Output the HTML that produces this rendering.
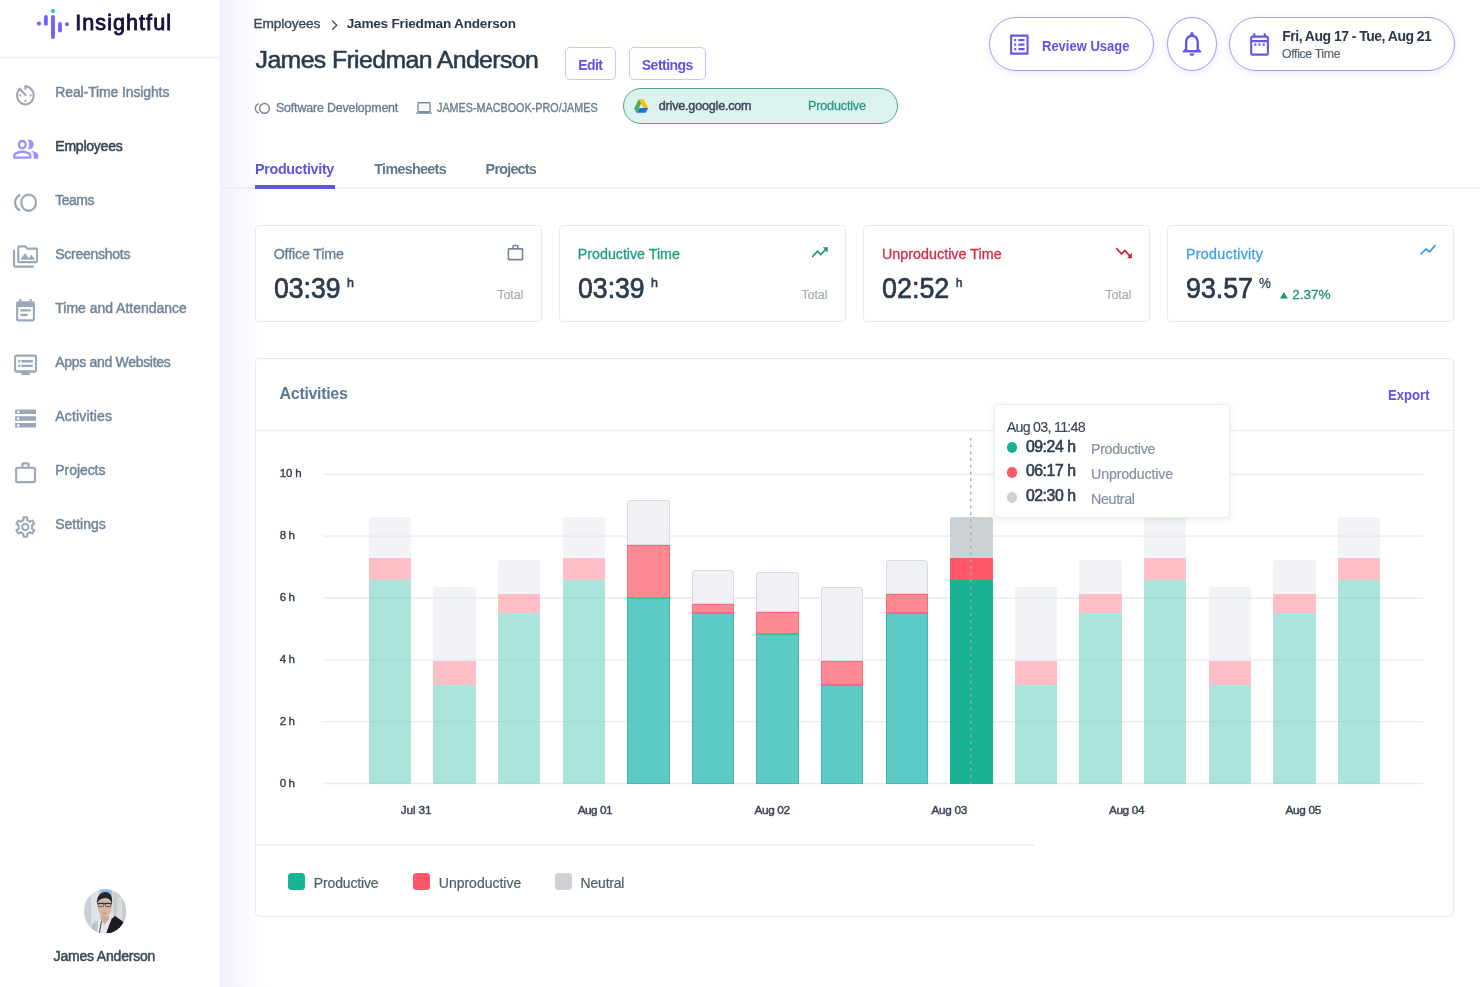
<!DOCTYPE html>
<html><head><meta charset="utf-8"><title>Insightful</title>
<style>
*{box-sizing:border-box;margin:0;padding:0}
html,body{width:1480px;height:987px;overflow:hidden;background:#fff;font-family:"Liberation Sans",sans-serif}
body{position:relative}
.abs,.t,svg.i{position:absolute}
.t{white-space:nowrap;line-height:1;display:block;opacity:.999}
.main-bg{left:221px;top:0;width:1259px;height:987px;background:linear-gradient(to right,#f2f1fe 0,#f7f6fe 14px,#fcfcff 32px,#fff 46px)}
.side{left:0;top:0;width:220px;height:987px;background:#fff}
.side-line{left:220px;top:0;width:1px;height:987px;background:#efeef8}
.logo-line{left:0;top:57px;width:220px;height:1px;background:#eceef2}
.btn{border:1px solid #cbc6f8;border-radius:5px;background:#fff}
.pill{left:623px;top:88px;width:275.4px;height:36px;border-radius:18px;background:#dcf2ee;border:1.2px solid #49a996}
.tabline{left:222px;top:187.4px;width:1258px;height:1.5px;background:#eef0f3}
.tabsel{left:254.8px;top:185px;width:79.8px;height:3.6px;background:#6156e8}
.card{top:225px;height:96.5px;width:286.8px;border:1px solid #e7ebef;border-radius:4px;background:#fff}
.panel{left:255px;top:358px;width:1199.3px;height:559px;border:1px solid #e7ebef;border-radius:5px;background:#fff}
.hline{height:1.2px;background:#eceff2}
.grid{left:323px;width:1100.3px;height:1.2px;background:#eaedf0}
.rbtn{top:17.2px;height:53.8px;border:1px solid #a69ff6;border-radius:27px;background:#fff;box-shadow:0 2px 6px rgba(91,78,227,.13)}
.bar{position:absolute;width:42.4px}
.tip{left:994.2px;top:403.9px;width:235.6px;height:114.5px;background:#fff;border:1px solid #e9edf1;border-radius:5px;box-shadow:0 2px 8px rgba(40,60,90,.09)}
.dot{width:10.8px;height:10.8px;border-radius:50%;left:1006.5px}
.lg{width:16.5px;height:17.6px;border-radius:3.5px;top:872.7px}

</style></head>
<body>
<div class="abs main-bg"></div>
<div class="abs side"></div><div class="abs side-line"></div><div class="abs logo-line"></div>
<div class="abs btn" style="left:565.1px;top:46.7px;width:50.7px;height:33.8px"></div>
<div class="abs btn" style="left:628.9px;top:46.7px;width:77.4px;height:33.8px"></div>
<div class="abs pill"></div>
<div class="abs tabline"></div><div class="abs tabsel"></div>
<div class="abs rbtn" style="left:989px;width:165.4px"></div>
<div class="abs rbtn" style="left:1167.1px;width:49.8px;border-radius:50%"></div>
<div class="abs rbtn" style="left:1229.2px;width:225.6px"></div>
<div class="abs card" style="left:255.0px"></div>
<div class="abs card" style="left:559.1px"></div>
<div class="abs card" style="left:863.3px"></div>
<div class="abs card" style="left:1167.4px"></div>
<div class="abs panel"></div>
<div class="abs hline" style="left:256px;top:429.6px;width:1197.3px"></div>
<div class="abs hline" style="left:256px;top:844.4px;width:778px"></div>
<svg class="i" style="left:322px;top:470px" width="1104" height="318" viewBox="322 470 1104 318"><line x1="322.8" x2="1423.3" y1="474.30" y2="474.30" stroke="#e9ecef" stroke-width="1.35"/><line x1="322.8" x2="1423.3" y1="536.14" y2="536.14" stroke="#e9ecef" stroke-width="1.35"/><line x1="322.8" x2="1423.3" y1="597.98" y2="597.98" stroke="#e9ecef" stroke-width="1.35"/><line x1="322.8" x2="1423.3" y1="659.82" y2="659.82" stroke="#e9ecef" stroke-width="1.35"/><line x1="322.8" x2="1423.3" y1="721.66" y2="721.66" stroke="#e9ecef" stroke-width="1.35"/><line x1="322.8" x2="1423.3" y1="783.50" y2="783.50" stroke="#e9ecef" stroke-width="1.35"/></svg>
<div class="bar" style="left:368.8px;top:517.3px;height:40.3px;background:rgba(225,229,234,.45);border-radius:3px 3px 0 0;"></div><div class="bar" style="left:368.8px;top:557.6px;height:22.6px;background:rgba(253,150,160,.6);"></div><div class="bar" style="left:368.8px;top:580.2px;height:203.4px;background:rgba(120,212,197,.62);"></div>
<div class="bar" style="left:433.4px;top:587.2px;height:73.9px;background:rgba(225,229,234,.45);border-radius:3px 3px 0 0;"></div><div class="bar" style="left:433.4px;top:661.1px;height:23.9px;background:rgba(253,150,160,.6);"></div><div class="bar" style="left:433.4px;top:685.0px;height:98.6px;background:rgba(120,212,197,.62);"></div>
<div class="bar" style="left:498.0px;top:560.2px;height:33.6px;background:rgba(225,229,234,.45);border-radius:3px 3px 0 0;"></div><div class="bar" style="left:498.0px;top:593.8px;height:19.2px;background:rgba(253,150,160,.6);"></div><div class="bar" style="left:498.0px;top:613.0px;height:170.6px;background:rgba(120,212,197,.62);"></div>
<div class="bar" style="left:562.6px;top:517.3px;height:40.3px;background:rgba(225,229,234,.45);border-radius:3px 3px 0 0;"></div><div class="bar" style="left:562.6px;top:557.6px;height:22.6px;background:rgba(253,150,160,.6);"></div><div class="bar" style="left:562.6px;top:580.2px;height:203.4px;background:rgba(120,212,197,.62);"></div>
<div class="bar" style="left:627.2px;top:500.4px;height:44.9px;background:#eff1f4;border:1px solid #d6dbe1;border-radius:3px 3px 0 0;"></div><div class="bar" style="left:627.2px;top:545.3px;height:52.5px;background:#ff8a94;border:1px solid #fb6a78;"></div><div class="bar" style="left:627.2px;top:597.8px;height:185.8px;background:#5ecac6;border:1px solid #3fb8ad;"></div>
<div class="bar" style="left:691.8px;top:570.3px;height:33.5px;background:#eff1f4;border:1px solid #d6dbe1;border-radius:3px 3px 0 0;"></div><div class="bar" style="left:691.8px;top:603.8px;height:8.9px;background:#ff8a94;border:1px solid #fb6a78;"></div><div class="bar" style="left:691.8px;top:612.7px;height:170.9px;background:#5ecac6;border:1px solid #3fb8ad;"></div>
<div class="bar" style="left:756.4px;top:571.6px;height:40.3px;background:#eff1f4;border:1px solid #d6dbe1;border-radius:3px 3px 0 0;"></div><div class="bar" style="left:756.4px;top:611.9px;height:22.1px;background:#ff8a94;border:1px solid #fb6a78;"></div><div class="bar" style="left:756.4px;top:634.0px;height:149.6px;background:#5ecac6;border:1px solid #3fb8ad;"></div>
<div class="bar" style="left:821.0px;top:587.2px;height:73.9px;background:#eff1f4;border:1px solid #d6dbe1;border-radius:3px 3px 0 0;"></div><div class="bar" style="left:821.0px;top:661.1px;height:23.9px;background:#ff8a94;border:1px solid #fb6a78;"></div><div class="bar" style="left:821.0px;top:685.0px;height:98.6px;background:#5ecac6;border:1px solid #3fb8ad;"></div>
<div class="bar" style="left:885.6px;top:560.2px;height:33.6px;background:#eff1f4;border:1px solid #d6dbe1;border-radius:3px 3px 0 0;"></div><div class="bar" style="left:885.6px;top:593.8px;height:19.2px;background:#ff8a94;border:1px solid #fb6a78;"></div><div class="bar" style="left:885.6px;top:613.0px;height:170.6px;background:#5ecac6;border:1px solid #3fb8ad;"></div>
<div class="bar" style="left:950.2px;top:517.3px;height:40.3px;background:#cdd2d7;border-radius:3px 3px 0 0;"></div><div class="bar" style="left:950.2px;top:557.6px;height:22.6px;background:#fd5969;"></div><div class="bar" style="left:950.2px;top:580.2px;height:203.4px;background:#19b394;"></div>
<div class="bar" style="left:1014.8px;top:587.2px;height:73.9px;background:rgba(225,229,234,.45);border-radius:3px 3px 0 0;"></div><div class="bar" style="left:1014.8px;top:661.1px;height:23.9px;background:rgba(253,150,160,.6);"></div><div class="bar" style="left:1014.8px;top:685.0px;height:98.6px;background:rgba(120,212,197,.62);"></div>
<div class="bar" style="left:1079.4px;top:560.2px;height:33.6px;background:rgba(225,229,234,.45);border-radius:3px 3px 0 0;"></div><div class="bar" style="left:1079.4px;top:593.8px;height:19.2px;background:rgba(253,150,160,.6);"></div><div class="bar" style="left:1079.4px;top:613.0px;height:170.6px;background:rgba(120,212,197,.62);"></div>
<div class="bar" style="left:1144.0px;top:517.3px;height:40.3px;background:rgba(225,229,234,.45);border-radius:3px 3px 0 0;"></div><div class="bar" style="left:1144.0px;top:557.6px;height:22.6px;background:rgba(253,150,160,.6);"></div><div class="bar" style="left:1144.0px;top:580.2px;height:203.4px;background:rgba(120,212,197,.62);"></div>
<div class="bar" style="left:1208.6px;top:587.2px;height:73.9px;background:rgba(225,229,234,.45);border-radius:3px 3px 0 0;"></div><div class="bar" style="left:1208.6px;top:661.1px;height:23.9px;background:rgba(253,150,160,.6);"></div><div class="bar" style="left:1208.6px;top:685.0px;height:98.6px;background:rgba(120,212,197,.62);"></div>
<div class="bar" style="left:1273.2px;top:560.2px;height:33.6px;background:rgba(225,229,234,.45);border-radius:3px 3px 0 0;"></div><div class="bar" style="left:1273.2px;top:593.8px;height:19.2px;background:rgba(253,150,160,.6);"></div><div class="bar" style="left:1273.2px;top:613.0px;height:170.6px;background:rgba(120,212,197,.62);"></div>
<div class="bar" style="left:1337.8px;top:517.3px;height:40.3px;background:rgba(225,229,234,.45);border-radius:3px 3px 0 0;"></div><div class="bar" style="left:1337.8px;top:557.6px;height:22.6px;background:rgba(253,150,160,.6);"></div><div class="bar" style="left:1337.8px;top:580.2px;height:203.4px;background:rgba(120,212,197,.62);"></div>
<svg class="i" style="left:969px;top:438px" width="4" height="346"><line x1="1.7" y1="0" x2="1.7" y2="346" stroke="#9ea9bc" stroke-width="1.4" stroke-dasharray="2.6 4.14"/></svg>
<div class="abs tip"></div>
<div class="abs dot" style="top:442.3px;background:#19b394"></div>
<div class="abs dot" style="top:467.2px;background:#fd5969"></div>
<div class="abs dot" style="top:492.1px;background:#cdd2d7"></div>
<div class="abs lg" style="left:288.0px;background:#19b394"></div>
<div class="abs lg" style="left:413.1px;background:#fd5969"></div>
<div class="abs lg" style="left:555.0px;background:#cdd2d7"></div>
<svg class="i" style="left:34px;top:6px" width="40" height="36" viewBox="34 6 40 36"><g fill="#6f64fb"><circle cx="39" cy="23.6" r="2.05"/><rect x="43.95" y="15.1" width="3.9" height="10.6" rx="1.95"/><rect x="51.0" y="15.1" width="3.9" height="23.9" rx="1.95"/><rect x="58.05" y="22.1" width="3.9" height="10.4" rx="1.95"/><circle cx="67" cy="24.2" r="2.0"/></g><circle cx="52.95" cy="10.9" r="2.0" fill="#14c7c8"/></svg>
<svg class="i" style="left:13.10px;top:81.55px" width="24.80" height="26.80" viewBox="0 0 24 24" preserveAspectRatio="none" fill="#9aa8b8"><path d="M11 17c0 .55.45 1 1 1s1-.45 1-1-.45-1-1-1-1 .45-1 1zm0-14v4h2V5.08c3.39.49 6 3.39 6 6.92 0 3.87-3.13 7-7 7s-7-3.13-7-7c0-1.68.59-3.22 1.58-4.42L12 13l1.41-1.41-6.8-6.8v.02C4.42 6.45 3 9.05 3 12c0 4.97 4.02 9 9 9 4.97 0 9-4.03 9-9s-4.03-9-9-9h-1zm7 9c0-.55-.45-1-1-1s-1 .45-1 1 .45 1 1 1 1-.45 1-1zM6 12c0 .55.45 1 1 1s1-.45 1-1-.45-1-1-1-1 .45-1 1z"/></svg>
<svg class="i" style="left:11.75px;top:135.12px" width="27.49" height="28.65" viewBox="0 0 24 24" preserveAspectRatio="none" fill="#9c92fb"><path d="M16.67 13.13C18.04 14.06 19 15.32 19 17v3h4v-3c0-2.18-3.57-3.47-6.33-3.87zM15 12c2.21 0 4-1.79 4-4s-1.79-4-4-4c-.47 0-.91.1-1.33.24C14.5 5.27 15 6.58 15 8s-.5 2.73-1.33 3.76c.42.14.86.24 1.33.24zM9 12c2.21 0 4-1.79 4-4s-1.79-4-4-4-4 1.79-4 4 1.79 4 4 4zm0-6c1.1 0 2 .9 2 2s-.9 2-2 2-2-.9-2-2 .9-2 2-2zm0 7c-2.67 0-8 1.34-8 4v3h16v-3c0-2.66-5.33-4-8-4zm6 5H3v-.99C3.2 16.29 6.3 15 9 15s5.8 1.29 6 2v1z"/></svg>
<svg class="i" style="left:12.95px;top:189.35px" width="25.09" height="27.30" viewBox="0 0 24 24" preserveAspectRatio="none" fill="#9aa8b8"><path d="M15 4c-4.42 0-8 3.58-8 8s3.58 8 8 8 8-3.58 8-8-3.58-8-8-8zm0 14c-3.31 0-6-2.69-6-6s2.69-6 6-6 6 2.69 6 6-2.69 6-6 6zM3 12c0-2.61 1.67-4.83 4-5.65V4.26C3.55 5.15 1 8.27 1 12s2.55 6.85 6 7.74v-2.09c-2.33-.82-4-3.04-4-5.65z"/></svg>
<svg class="i" style="left:12.90px;top:243.46px" width="25.20" height="26.88" viewBox="0 0 24 24" preserveAspectRatio="none" fill="#9aa8b8"><path d="M2 6H0v5h.01L0 20c0 1.1.9 2 2 2h18v-2H2V6zm5 9h14l-3.5-4.5-2.5 3.01L11.5 9zM22 4h-8l-2-2H6c-1.1 0-1.99.9-1.99 2L4 16c0 1.1.9 2 2 2h16c1.1 0 2-.9 2-2V6c0-1.1-.9-2-2-2zm0 12H6V4h5.17l2 2H22v10z"/></svg>
<svg class="i" style="left:13.07px;top:297.68px" width="25.07" height="26.88" viewBox="0 0 24 24" preserveAspectRatio="none" fill="#9aa8b8"><path d="M17 10H7v2h10v-2zm2-7h-1V1h-2v2H8V1H6v2H5c-1.11 0-1.99.9-1.99 2L3 19c0 1.1.89 2 2 2h14c1.1 0 2-.9 2-2V5c0-1.1-.9-2-2-2zm0 16H5V8h14v11zm-5-5H7v2h7v-2z"/></svg>
<svg class="i" style="left:12.95px;top:351.48px" width="25.09" height="27.33" viewBox="0 0 24 24" preserveAspectRatio="none" fill="#9aa8b8"><path d="M21 3H3c-1.1 0-2 .9-2 2v12c0 1.1.9 2 2 2h5v2h8v-2h5c1.1 0 1.99-.9 1.99-2L23 5c0-1.1-.9-2-2-2zm0 14H3V5h18v12zm-2-9H8v2h11V8zm0 4H8v2h11v-2zM7 8H5v2h2V8zm0 4H5v2h2v-2z"/></svg>
<svg class="i" style="left:13.01px;top:404.50px" width="25.08" height="27.00" viewBox="0 0 24 24" preserveAspectRatio="none" fill="#9aa8b8"><path d="M2 20h20v-4H2v4zm2-3h2v2H4v-2zM2 4v4h20V4H2zm4 3H4V5h2v2zm-4 7h20v-4H2v4zm2-3h2v2H4v-2z"/></svg>
<svg class="i" style="left:13.01px;top:459.99px" width="25.08" height="26.53" viewBox="0 0 24 24" preserveAspectRatio="none" fill="#9aa8b8"><path d="M14 6V4h-4v2h4zM4 8v11h16V8H4zm16-2c1.11 0 2 .89 2 2v11c0 1.11-.89 2-2 2H4c-1.11 0-2-.89-2-2l.01-11c0-1.11.88-2 1.99-2h4V4c0-1.11.89-2 2-2h4c1.11 0 2 .89 2 2v2h4z"/></svg>
<svg class="i" style="left:13.04px;top:514.03px" width="24.62" height="26.04" viewBox="0 0 24 24" preserveAspectRatio="none" fill="#9aa8b8"><path d="M19.43 12.98c.04-.32.07-.64.07-.98 0-.34-.03-.66-.07-.98l2.11-1.65c.19-.15.24-.42.12-.64l-2-3.46c-.09-.16-.26-.25-.44-.25-.06 0-.12.01-.17.03l-2.49 1c-.52-.4-1.08-.73-1.69-.98l-.38-2.65C14.46 2.18 14.25 2 14 2h-4c-.25 0-.46.18-.49.42l-.38 2.65c-.61.25-1.17.59-1.69.98l-2.49-1c-.06-.02-.12-.03-.18-.03-.17 0-.34.09-.43.25l-2 3.46c-.13.22-.07.49.12.64l2.11 1.65c-.04.32-.07.65-.07.98 0 .33.03.66.07.98l-2.11 1.65c-.19.15-.24.42-.12.64l2 3.46c.09.16.26.25.44.25.06 0 .12-.01.17-.03l2.49-1c.52.4 1.08.73 1.69.98l.38 2.65c.03.24.24.42.49.42h4c.25 0 .46-.18.49-.42l.38-2.65c.61-.25 1.17-.59 1.69-.98l2.49 1c.06.02.12.03.18.03.17 0 .34-.09.43-.25l2-3.46c.12-.22.07-.49-.12-.64l-2.11-1.65zm-1.98-1.71c.04.31.05.52.05.73 0 .21-.02.43-.05.73l-.14 1.13.89.7 1.08.84-.7 1.21-1.27-.51-1.04-.42-.9.68c-.43.32-.84.56-1.25.73l-1.06.43-.16 1.13-.2 1.35h-1.4l-.19-1.35-.16-1.13-1.06-.43c-.43-.18-.83-.41-1.23-.71l-.91-.7-1.06.43-1.27.51-.7-1.21 1.08-.84.89-.7-.14-1.13c-.03-.31-.05-.54-.05-.74s.02-.43.05-.73l.14-1.13-.89-.7-1.08-.84.7-1.21 1.27.51 1.04.42.9-.68c.43-.32.84-.56 1.25-.73l1.06-.43.16-1.13.2-1.35h1.39l.19 1.35.16 1.13 1.06.43c.43.18.83.41 1.23.71l.91.7 1.06-.43 1.27-.51.7 1.21-1.07.85-.89.7.14 1.13zM12 8c-2.21 0-4 1.79-4 4s1.79 4 4 4 4-1.79 4-4-1.79-4-4-4zm0 6c-1.1 0-2-.9-2-2s.9-2 2-2 2 .9 2 2-.9 2-2 2z"/></svg>
<svg class="i" style="left:254.40px;top:99.90px" width="16.80" height="16.80" viewBox="0 0 24 24" preserveAspectRatio="none" fill="#7a8b9e"><path d="M15 4c-4.42 0-8 3.58-8 8s3.58 8 8 8 8-3.58 8-8-3.58-8-8-8zm0 14c-3.31 0-6-2.69-6-6s2.69-6 6-6 6 2.69 6 6-2.69 6-6 6zM3 12c0-2.61 1.67-4.83 4-5.65V4.26C3.55 5.15 1 8.27 1 12s2.55 6.85 6 7.74v-2.09c-2.33-.82-4-3.04-4-5.65z"/></svg>
<svg class="i" style="left:416.20px;top:99.03px" width="16.10" height="17.85" viewBox="0 0 24 24" preserveAspectRatio="none" fill="#7a8b9e"><path d="M20 18c1.1 0 2-.9 2-2V6c0-1.1-.9-2-2-2H4c-1.1 0-2 .9-2 2v10c0 1.1.9 2 2 2H0v2h24v-2h-4zM4 6h16v10H4V6z"/></svg>
<svg class="i" style="left:1006.82px;top:30.52px" width="24.67" height="27.07" viewBox="0 0 24 24" preserveAspectRatio="none" fill="#6257ea"><path d="M11 7h6v2h-6zm0 4h6v2h-6zm0 4h6v2h-6zM7 7h2v2H7zm0 4h2v2H7zm0 4h2v2H7zM20.1 3H3.9c-.5 0-.9.4-.9.9v16.2c0 .4.4.9.9.9h16.2c.4 0 .9-.5.9-.9V3.9c0-.5-.5-.9-.9-.9zM19 19H5V5h14v14z"/></svg>
<svg class="i" style="left:1177.95px;top:29.42px" width="27.90" height="29.54" viewBox="0 0 24 24" preserveAspectRatio="none" fill="#6257ea"><path d="M12 22c1.1 0 2-.9 2-2h-4c0 1.1.9 2 2 2zm6-6v-5c0-3.07-1.63-5.64-4.5-6.32V4c0-.83-.67-1.5-1.5-1.5s-1.5.67-1.5 1.5v.68C7.64 5.36 6 7.92 6 11v5l-2 2v1h16v-1l-2-2zm-2 1H8v-6c0-2.48 1.51-4.5 4-4.5s4 2.02 4 4.5v6z"/></svg>
<svg class="i" style="left:1247.17px;top:30.65px" width="25.07" height="27.00" viewBox="0 0 24 24" preserveAspectRatio="none" fill="#6257ea"><path d="M7 11h2v2H7v-2zm14-5v14c0 1.1-.9 2-2 2H5c-1.11 0-2-.9-2-2l.01-14c0-1.1.88-2 1.99-2h1V2h2v2h8V2h2v2h1c1.1 0 2 .9 2 2zM5 8h14V6H5v2zm14 12V10H5v10h14zm-4-7h2v-2h-2v2zm-4 0h2v-2h-2v2z"/></svg>
<svg class="i" style="left:506.02px;top:243.34px" width="18.96" height="19.96" viewBox="0 0 24 24" preserveAspectRatio="none" fill="#75869a"><path d="M14 6V4h-4v2h4zM4 8v11h16V8H4zm16-2c1.11 0 2 .89 2 2v11c0 1.11-.89 2-2 2H4c-1.11 0-2-.89-2-2l.01-11c0-1.11.88-2 1.99-2h4V4c0-1.11.89-2 2-2h4c1.11 0 2 .89 2 2v2h4z"/></svg>
<svg class="i" style="left:810.19px;top:241.50px" width="19.32" height="20.80" viewBox="0 0 24 24" preserveAspectRatio="none" fill="#1b9075"><path d="M16 6l2.29 2.29-4.88 4.88-4-4L2 16.59 3.41 18l6-6 4 4 6.3-6.29L22 12V6z"/></svg>
<svg class="i" style="left:1114.18px;top:241.60px" width="19.44" height="21.60" viewBox="0 0 24 24" preserveAspectRatio="none" fill="#cc2036"><path d="M16 18l2.29-2.29-4.88-4.88-4 4L2 7.41 3.41 6l6 6 4-4 6.3 6.29L22 12v6z"/></svg>
<svg class="i" style="left:1418px;top:242px" width="20" height="16" viewBox="1418 242 20 16"><polyline points="1421,253.9 1426,249 1429.6,251.8 1435,245.6" fill="none" stroke="#3399e8" stroke-width="1.7" stroke-linecap="round" stroke-linejoin="round"/></svg>
<svg class="i" style="left:1280px;top:291px" width="8" height="8" viewBox="0 0 8 8"><path d="M0 7.4L3.9 0.9L7.8 7.4z" fill="#1c9478"/></svg>
<svg class="i" style="left:634px;top:99px" width="14.6" height="14" viewBox="0 0 14.6 14"><path d="M4.9 0.3L9.5 0.3L14.4 8.9L9.3 8.9z" fill="#fdc107"/><path d="M4.8 0.3L0.1 9.7L2.7 13.7L7.1 4.5z" fill="#4bae50"/><path d="M5.2 9.1L14.3 9.1L11.6 13.8L2.7 13.8z" fill="#1b74d3"/></svg>
<svg class="i" style="left:330px;top:18px" width="10" height="14" viewBox="0 0 10 14"><path d="M2.2 2.8L6.8 7.3L2.2 11.8" fill="none" stroke="#3a485a" stroke-width="1.25"/></svg>
<svg class="i" style="left:83.5px;top:888.6px" width="42.2" height="44.8" viewBox="0 0 42 45" preserveAspectRatio="none"><defs><clipPath id="av"><ellipse cx="21" cy="22.5" rx="21" ry="22.5"/></clipPath><filter id="bl" x="-10%" y="-10%" width="120%" height="120%"><feGaussianBlur stdDeviation="0.55"/></filter></defs><g clip-path="url(#av)"><g filter="url(#bl)"><rect x="-2" y="-2" width="46" height="49" fill="#dfe2e7"/><rect x="-2" y="-2" width="9" height="49" fill="#c9cfd9"/><rect x="29" y="3" width="15" height="36" fill="#c6cccb"/><rect x="33" y="8" width="5" height="26" fill="#d8dcdc"/><rect x="15.5" y="-2" width="12.5" height="10" fill="#8fc3ee"/><path d="M4 46L7 35L16 31L27 31L23 46z" fill="#e4e7ec"/><path d="M6 46L8 35L14 32L13 46z" fill="#b9c3cf"/><path d="M21.500 46L27.500 30L31 27L41 34.500L43 46z" fill="#1b1c22"/><path d="M16.500 30L20.500 36L25 30L24 25L16.500 25z" fill="#d2ab98"/><ellipse cx="20.600" cy="18.600" rx="6.900" ry="9" fill="#dbb5a3"/><path d="M13 15.500C12 7 17 3 21 3C26 3 29.200 7.500 27.800 15.500C27 11 24 9 20.500 9.300C17 9.500 14 11.500 13 15.500z" fill="#2b2525"/><rect x="13.500" y="14.100" width="14.200" height="1.100" fill="#2d2d33"/><rect x="14" y="14.200" width="5.600" height="3.500" rx="1" fill="none" stroke="#2d2d33" stroke-width="0.700"/><rect x="21.400" y="14.200" width="5.600" height="3.500" rx="1" fill="none" stroke="#2d2d33" stroke-width="0.700"/><path d="M18.300 24.300Q20.600 25.300 23 24.300" stroke="#a9806f" stroke-width="0.700" fill="none"/><path d="M15 46L17.500 32" stroke="#3c4048" stroke-width="0.900"/></g></g></svg>
<!-- text -->
<span class="t" id="t0" style="left:75.30px;top:12.00px;font-size:21.60px;font-weight:400;color:#15103c;-webkit-text-stroke:0.85px #15103c;letter-spacing:1.029px;">Insightful</span>
<span class="t" id="t1" style="left:55.30px;top:85.00px;font-size:14.00px;font-weight:400;color:#71849a;-webkit-text-stroke:0.45px #71849a;letter-spacing:-0.123px;">Real-Time Insights</span>
<span class="t" id="t2" style="left:55.30px;top:139.00px;font-size:14.00px;font-weight:400;color:#3a485a;-webkit-text-stroke:0.55px #3a485a;letter-spacing:-0.233px;">Employees</span>
<span class="t" id="t3" style="left:55.30px;top:193.00px;font-size:14.00px;font-weight:400;color:#71849a;-webkit-text-stroke:0.45px #71849a;letter-spacing:-0.534px;">Teams</span>
<span class="t" id="t4" style="left:55.30px;top:247.00px;font-size:14.00px;font-weight:400;color:#71849a;-webkit-text-stroke:0.45px #71849a;letter-spacing:-0.263px;">Screenshots</span>
<span class="t" id="t5" style="left:55.30px;top:301.00px;font-size:14.00px;font-weight:400;color:#71849a;-webkit-text-stroke:0.45px #71849a;letter-spacing:-0.016px;">Time and Attendance</span>
<span class="t" id="t6" style="left:55.30px;top:355.00px;font-size:14.00px;font-weight:400;color:#71849a;-webkit-text-stroke:0.45px #71849a;letter-spacing:-0.311px;">Apps and Websites</span>
<span class="t" id="t7" style="left:55.30px;top:409.00px;font-size:14.00px;font-weight:400;color:#71849a;-webkit-text-stroke:0.45px #71849a;letter-spacing:0.152px;">Activities</span>
<span class="t" id="t8" style="left:55.30px;top:463.00px;font-size:14.00px;font-weight:400;color:#71849a;-webkit-text-stroke:0.45px #71849a;letter-spacing:-0.068px;">Projects</span>
<span class="t" id="t9" style="left:55.30px;top:517.00px;font-size:14.00px;font-weight:400;color:#71849a;-webkit-text-stroke:0.45px #71849a;letter-spacing:-0.028px;">Settings</span>
<span class="t" id="t10" style="left:53.60px;top:949.00px;font-size:14.00px;font-weight:400;color:#3a485a;-webkit-text-stroke:0.5px #3a485a;letter-spacing:-0.192px;">James Anderson</span>
<span class="t" id="t11" style="left:253.50px;top:17.00px;font-size:13.70px;font-weight:400;color:#3a485a;-webkit-text-stroke:0.35px #3a485a;letter-spacing:-0.102px;">Employees</span>
<span class="t" id="t12" style="left:346.70px;top:17.00px;font-size:13.60px;font-weight:700;color:#2b3848;letter-spacing:-0.214px;">James Friedman Anderson</span>
<span class="t" id="t13" style="left:255.60px;top:48.00px;font-size:24.80px;font-weight:400;color:#2b3a4a;-webkit-text-stroke:0.55px #2b3a4a;letter-spacing:-0.601px;">James Friedman Anderson</span>
<span class="t" id="t14" style="left:578.20px;top:58.00px;font-size:14.00px;font-weight:700;color:#5f53e6;letter-spacing:-0.584px;">Edit</span>
<span class="t" id="t15" style="left:641.80px;top:58.00px;font-size:14.00px;font-weight:700;color:#5f53e6;letter-spacing:-0.519px;">Settings</span>
<span class="t" id="t16" style="left:276.00px;top:102.00px;font-size:12.40px;font-weight:400;color:#6b7d90;-webkit-text-stroke:0.35px #6b7d90;letter-spacing:-0.161px;">Software Development</span>
<span class="t" id="t17" style="left:437.20px;top:102.00px;font-size:12.20px;font-weight:400;color:#6b7d90;-webkit-text-stroke:0.35px #6b7d90;transform:scaleX(0.8849);transform-origin:0 0;">JAMES-MACBOOK-PRO/JAMES</span>
<span class="t" id="t18" style="left:658.80px;top:100.00px;font-size:12.60px;font-weight:400;color:#3a485a;-webkit-text-stroke:0.45px #3a485a;letter-spacing:-0.207px;">drive.google.com</span>
<span class="t" id="t19" style="left:808.00px;top:100.00px;font-size:12.60px;font-weight:400;color:#2a9a83;-webkit-text-stroke:0.3px #2a9a83;letter-spacing:-0.168px;">Productive</span>
<span class="t" id="t20" style="left:255.00px;top:162.00px;font-size:14.30px;font-weight:700;color:#5f53e6;letter-spacing:-0.302px;">Productivity</span>
<span class="t" id="t21" style="left:374.30px;top:162.00px;font-size:14.30px;font-weight:700;color:#62778b;letter-spacing:-0.680px;">Timesheets</span>
<span class="t" id="t22" style="left:485.60px;top:162.00px;font-size:14.30px;font-weight:700;color:#62778b;letter-spacing:-0.746px;">Projects</span>
<span class="t" id="t23" style="left:1041.70px;top:39.00px;font-size:14.40px;font-weight:700;color:#5f53e6;transform:scaleX(0.9029);transform-origin:0 0;">Review Usage</span>
<span class="t" id="t24" style="left:1282.30px;top:29.00px;font-size:14.00px;font-weight:700;color:#2b3848;letter-spacing:-0.519px;">Fri, Aug 17 - Tue, Aug 21</span>
<span class="t" id="t25" style="left:1282.00px;top:48.00px;font-size:12.30px;font-weight:400;color:#566676;-webkit-text-stroke:0.2px #566676;letter-spacing:-0.347px;">Office Time</span>
<span class="t" id="t26" style="left:273.70px;top:247.00px;font-size:14.30px;font-weight:400;color:#6b7d90;-webkit-text-stroke:0.3px #6b7d90;letter-spacing:-0.185px;">Office Time</span>
<span class="t" id="t27" style="left:273.70px;top:274.00px;font-size:29.10px;font-weight:400;color:#2b3a4a;-webkit-text-stroke:0.7px #2b3a4a;transform:scaleX(0.9147);transform-origin:0 0;">03:39</span>
<span class="t" id="t28" style="left:347.00px;top:276.00px;font-size:13.60px;font-weight:400;color:#2b3a4a;-webkit-text-stroke:0.6px #2b3a4a;transform:scaleX(0.9124);transform-origin:0 0;">h</span>
<span class="t" id="t29" style="left:497.20px;top:289.00px;font-size:12.70px;font-weight:400;color:#a3adb8;-webkit-text-stroke:0.2px #a3adb8;letter-spacing:-0.153px;">Total</span>
<span class="t" id="t30" style="left:577.80px;top:247.00px;font-size:14.30px;font-weight:400;color:#1f9d7f;-webkit-text-stroke:0.3px #1f9d7f;letter-spacing:-0.030px;">Productive Time</span>
<span class="t" id="t31" style="left:577.80px;top:274.00px;font-size:29.10px;font-weight:400;color:#2b3a4a;-webkit-text-stroke:0.7px #2b3a4a;transform:scaleX(0.9161);transform-origin:0 0;">03:39</span>
<span class="t" id="t32" style="left:651.20px;top:276.00px;font-size:13.60px;font-weight:400;color:#2b3a4a;-webkit-text-stroke:0.6px #2b3a4a;transform:scaleX(0.9124);transform-origin:0 0;">h</span>
<span class="t" id="t33" style="left:801.40px;top:289.00px;font-size:12.70px;font-weight:400;color:#a3adb8;-webkit-text-stroke:0.2px #a3adb8;letter-spacing:-0.153px;">Total</span>
<span class="t" id="t34" style="left:881.90px;top:247.00px;font-size:14.30px;font-weight:400;color:#d42a45;-webkit-text-stroke:0.3px #d42a45;letter-spacing:0.031px;">Unproductive Time</span>
<span class="t" id="t35" style="left:881.90px;top:274.00px;font-size:29.10px;font-weight:400;color:#2b3a4a;-webkit-text-stroke:0.7px #2b3a4a;transform:scaleX(0.9243);transform-origin:0 0;">02:52</span>
<span class="t" id="t36" style="left:955.70px;top:276.00px;font-size:13.60px;font-weight:400;color:#2b3a4a;-webkit-text-stroke:0.6px #2b3a4a;transform:scaleX(0.8463);transform-origin:0 0;">h</span>
<span class="t" id="t37" style="left:1105.30px;top:289.00px;font-size:12.70px;font-weight:400;color:#a3adb8;-webkit-text-stroke:0.2px #a3adb8;letter-spacing:-0.178px;">Total</span>
<span class="t" id="t38" style="left:1186.00px;top:247.00px;font-size:14.30px;font-weight:400;color:#3d9ee5;-webkit-text-stroke:0.3px #3d9ee5;letter-spacing:0.281px;">Productivity</span>
<span class="t" id="t39" style="left:1186.00px;top:274.00px;font-size:29.10px;font-weight:400;color:#2b3a4a;-webkit-text-stroke:0.7px #2b3a4a;transform:scaleX(0.9202);transform-origin:0 0;">93.57</span>
<span class="t" id="t40" style="left:1259.00px;top:275.00px;font-size:15.00px;font-weight:400;color:#2b3a4a;-webkit-text-stroke:0.25px #2b3a4a;transform:scaleX(0.8918);transform-origin:0 0;">%</span>
<span class="t" id="t41" style="left:1292.30px;top:288.00px;font-size:13.60px;font-weight:400;color:#1c9478;-webkit-text-stroke:0.3px #1c9478;letter-spacing:-0.087px;">2.37%</span>
<span class="t" id="t42" style="left:279.60px;top:386.00px;font-size:16.00px;font-weight:700;color:#5a7a95;letter-spacing:-0.327px;">Activities</span>
<span class="t" id="t43" style="left:1387.70px;top:388.00px;font-size:14.40px;font-weight:700;color:#5f53e6;transform:scaleX(0.9105);transform-origin:0 0;">Export</span>
<span class="t" id="t44" style="left:279.70px;top:468.00px;font-size:11.50px;font-weight:400;color:#2f3e4e;-webkit-text-stroke:0.35px #2f3e4e;letter-spacing:-0.164px;">10 h</span>
<span class="t" id="t45" style="left:279.70px;top:530.00px;font-size:11.50px;font-weight:400;color:#2f3e4e;-webkit-text-stroke:0.35px #2f3e4e;letter-spacing:-0.350px;">8 h</span>
<span class="t" id="t46" style="left:279.70px;top:592.00px;font-size:11.50px;font-weight:400;color:#2f3e4e;-webkit-text-stroke:0.35px #2f3e4e;letter-spacing:-0.350px;">6 h</span>
<span class="t" id="t47" style="left:279.70px;top:654.00px;font-size:11.50px;font-weight:400;color:#2f3e4e;-webkit-text-stroke:0.35px #2f3e4e;letter-spacing:-0.350px;">4 h</span>
<span class="t" id="t48" style="left:279.70px;top:716.00px;font-size:11.50px;font-weight:400;color:#2f3e4e;-webkit-text-stroke:0.35px #2f3e4e;letter-spacing:-0.350px;">2 h</span>
<span class="t" id="t49" style="left:279.70px;top:778.00px;font-size:11.50px;font-weight:400;color:#2f3e4e;-webkit-text-stroke:0.35px #2f3e4e;letter-spacing:-0.350px;">0 h</span>
<span class="t" id="t50" style="left:400.80px;top:805.00px;font-size:11.80px;font-weight:400;color:#3a485a;-webkit-text-stroke:0.45px #3a485a;letter-spacing:-0.157px;">Jul 31</span>
<span class="t" id="t51" style="left:577.70px;top:805.00px;font-size:11.80px;font-weight:400;color:#3a485a;-webkit-text-stroke:0.45px #3a485a;letter-spacing:-0.498px;">Aug 01</span>
<span class="t" id="t52" style="left:754.50px;top:805.00px;font-size:11.80px;font-weight:400;color:#3a485a;-webkit-text-stroke:0.45px #3a485a;letter-spacing:-0.378px;">Aug 02</span>
<span class="t" id="t53" style="left:931.60px;top:805.00px;font-size:11.80px;font-weight:400;color:#3a485a;-webkit-text-stroke:0.45px #3a485a;letter-spacing:-0.358px;">Aug 03</span>
<span class="t" id="t54" style="left:1108.90px;top:805.00px;font-size:11.80px;font-weight:400;color:#3a485a;-webkit-text-stroke:0.45px #3a485a;letter-spacing:-0.358px;">Aug 04</span>
<span class="t" id="t55" style="left:1285.60px;top:805.00px;font-size:11.80px;font-weight:400;color:#3a485a;-webkit-text-stroke:0.45px #3a485a;letter-spacing:-0.338px;">Aug 05</span>
<span class="t" id="t56" style="left:1006.70px;top:420.00px;font-size:14.20px;font-weight:400;color:#3a485a;-webkit-text-stroke:0.15px #3a485a;letter-spacing:-0.693px;">Aug 03, 11:48</span>
<span class="t" id="t57" style="left:1025.90px;top:439.00px;font-size:15.80px;font-weight:400;color:#2f3e4e;-webkit-text-stroke:0.6px #2f3e4e;letter-spacing:-0.436px;">09:24 h</span>
<span class="t" id="t58" style="left:1091.00px;top:442.00px;font-size:14.30px;font-weight:400;color:#8391a1;-webkit-text-stroke:0.2px #8391a1;letter-spacing:-0.351px;">Productive</span>
<span class="t" id="t59" style="left:1025.90px;top:463.00px;font-size:15.80px;font-weight:400;color:#2f3e4e;-webkit-text-stroke:0.6px #2f3e4e;letter-spacing:-0.436px;">06:17 h</span>
<span class="t" id="t60" style="left:1091.00px;top:467.00px;font-size:14.30px;font-weight:400;color:#8391a1;-webkit-text-stroke:0.2px #8391a1;letter-spacing:-0.195px;">Unproductive</span>
<span class="t" id="t61" style="left:1025.90px;top:488.00px;font-size:15.80px;font-weight:400;color:#2f3e4e;-webkit-text-stroke:0.6px #2f3e4e;letter-spacing:-0.436px;">02:30 h</span>
<span class="t" id="t62" style="left:1091.00px;top:492.00px;font-size:14.30px;font-weight:400;color:#8391a1;-webkit-text-stroke:0.2px #8391a1;letter-spacing:-0.349px;">Neutral</span>
<span class="t" id="t63" style="left:313.80px;top:876.00px;font-size:14.00px;font-weight:400;color:#4d5e70;-webkit-text-stroke:0.2px #4d5e70;letter-spacing:-0.151px;">Productive</span>
<span class="t" id="t64" style="left:438.80px;top:876.00px;font-size:14.00px;font-weight:400;color:#4d5e70;-webkit-text-stroke:0.2px #4d5e70;letter-spacing:-0.009px;">Unproductive</span>
<span class="t" id="t65" style="left:580.60px;top:876.00px;font-size:14.00px;font-weight:400;color:#4d5e70;-webkit-text-stroke:0.2px #4d5e70;letter-spacing:-0.207px;">Neutral</span>
</body></html>
